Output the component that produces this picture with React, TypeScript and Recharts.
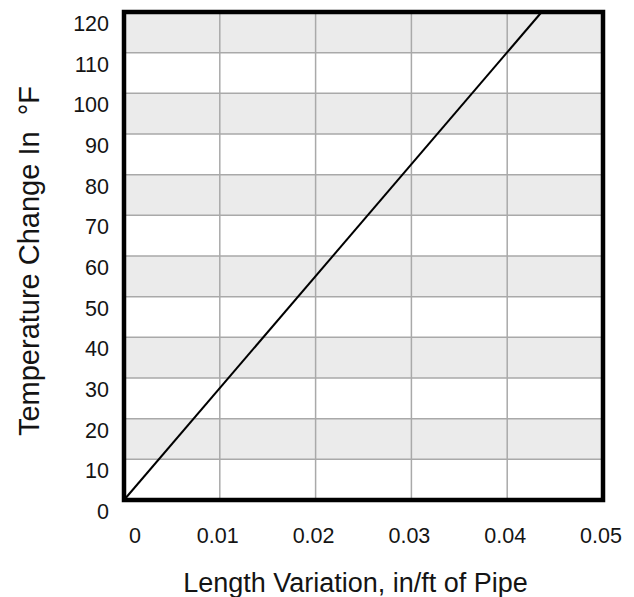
import { LineChart, Line, XAxis, YAxis, CartesianGrid, ReferenceArea, Label } from "recharts";

const xTicks = [0, 0.01, 0.02, 0.03, 0.04, 0.05];
const yTicks = [0, 10, 20, 30, 40, 50, 60, 70, 80, 90, 100, 110, 120];
const lengthVariation = [0, 0.0436];
const tempChange = [0, 120];

const data = lengthVariation.map((x, i) => ({ x, t: tempChange[i] }));

const font = "Liberation Sans, Arial, Helvetica, sans-serif";
const ink = "#141414";

const XTick = (props: any) => (
  <text
    x={props.x + (props.payload.value === 0 ? 11 : -2)}
    y={props.y + 35}
    textAnchor="middle"
    fontSize={21.5}
    fontFamily={font}
    fill={ink}
  >
    {props.payload.value}
  </text>
);

const YTick = (props: any) => (
  <text
    x={props.x - 7}
    y={props.y + 19}
    textAnchor="end"
    fontSize={21.5}
    fontFamily={font}
    fill={ink}
  >
    {props.payload.value}
  </text>
);

const XLabel = ({ viewBox }: any) => (
  <text
    x={viewBox.x + viewBox.width / 2 - 8}
    y={viewBox.y + 92}
    textAnchor="middle"
    fontSize={27}
    fontFamily={font}
    fill={ink}
  >
    Length Variation, in/ft of Pipe
  </text>
);

const YLabel = ({ viewBox }: any) => {
  const cx = viewBox.x + 39;
  const cy = viewBox.y + viewBox.height / 2 + 5;
  return (
    <text
      x={cx}
      y={cy}
      transform={`rotate(-90 ${cx} ${cy})`}
      textAnchor="middle"
      fontSize={29}
      fontFamily={font}
      fill={ink}
    >
      {"Temperature Change In\u00A0\u00A0°F"}
    </text>
  );
};

export default function App() {
  return (
    <div style={{ position: "absolute", left: 0, top: 0, background: "#fff" }}>
      <LineChart
        width={634}
        height={597}
        data={data}
        margin={{ top: 12, right: 31, bottom: 17, left: 0 }}
      >
        <CartesianGrid
          stroke="#a9a9a9"
          strokeWidth={1.5}
          horizontalFill={["#ebebeb", "#ffffff"]}
        />
        <XAxis
          dataKey="x"
          type="number"
          domain={[0, 0.05]}
          ticks={xTicks}
          axisLine={false}
          tickLine={false}
          tick={<XTick />}
          height={80}
          interval={0}
        >
          <Label content={<XLabel />} />
        </XAxis>
        <YAxis
          dataKey="t"
          type="number"
          domain={[0, 120]}
          ticks={yTicks}
          axisLine={false}
          tickLine={false}
          tick={<YTick />}
          width={124}
          interval={0}
        >
          <Label content={<YLabel />} />
        </YAxis>
        <Line
          dataKey="t"
          stroke="#000"
          strokeWidth={2}
          dot={false}
          isAnimationActive={false}
        />
        <ReferenceArea
          x1={0}
          x2={0.05}
          y1={0}
          y2={120}
          fill="none"
          stroke="#000"
          strokeWidth={4.5}
          ifOverflow="visible"
        />
      </LineChart>
    </div>
  );
}
